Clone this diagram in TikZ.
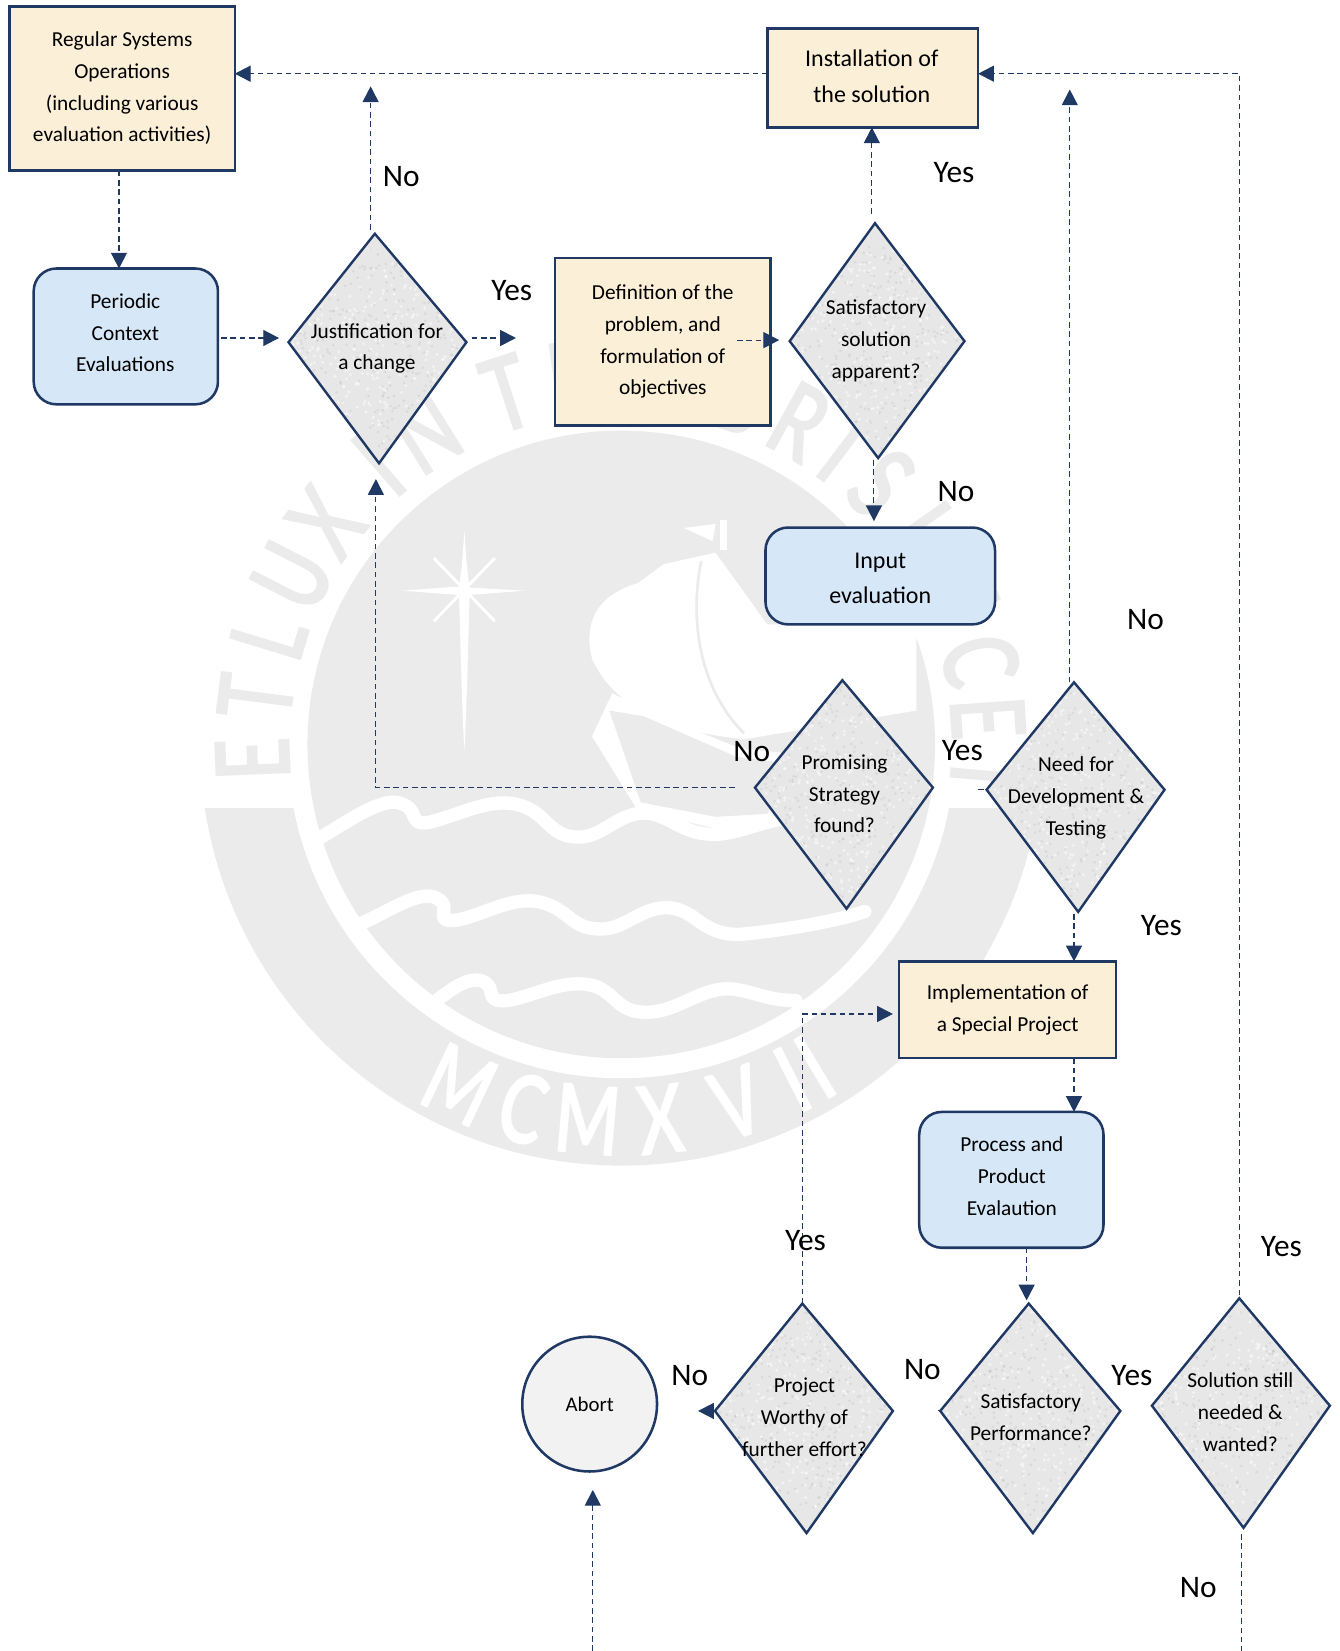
\documentclass[tikz,border=0pt]{standalone}
\usepackage{fontspec}
\setmainfont{Carlito}
\newfontfamily\wmfont{Lato}
\usetikzlibrary{arrows.meta}
\definecolor{navy}{HTML}{1F3864}
\definecolor{wm}{HTML}{ECEBEB}
\definecolor{cream}{HTML}{FBEFD8}
\definecolor{sky}{HTML}{D6E7F8}
\definecolor{kitefill}{HTML}{E7E7E7}
\def\pxu{0.7895pt}
\tikzset{
  x=0.7895pt, y=-0.7895pt,
  boxbase/.style={draw=navy,line width=1.9pt,align=center,inner sep=0pt,outer sep=0pt,text=black,
    font=\fontsize{16}{23.8}\selectfont},
  creambox/.style={boxbase,rectangle,fill=cream},
  skybox/.style={boxbase,rectangle,fill=sky,rounded corners=17pt},
  kitetext/.style={align=center,inner sep=0pt,text=black,font=\fontsize{16}{23.8}\selectfont},
  answer/.style={inner sep=0pt,text=black,font=\fontsize{23.5}{26}\selectfont},
  conn/.style={draw=navy,line width=0.8pt,dash pattern=on 4.2pt off 2.8pt},
  flow/.style={conn,-{Triangle[length=11.8pt,width=12pt]}},
  wmletter/.style={inner sep=0pt,text=wm,xscale=0.72,font=\fontsize{78}{78}\selectfont\wmfont\bfseries},
  wmwhite/.style={inner sep=0pt,text=white,xscale=0.72,font=\fontsize{72}{72}\selectfont\wmfont\bfseries},
  wave/.style={draw=white,line width=10pt,line cap=round,line join=round},
}
% name, top, right, bottom, left corners of a kite-shaped decision
\newcommand\kite[9]{%
  \coordinate (#1-t) at (#2,#3);
  \coordinate (#1-r) at (#4,#5);
  \coordinate (#1-b) at (#6,#7);
  \coordinate (#1-l) at (#8,#9);
  \begin{scope}
    \clip (#1-t) -- (#1-r) -- (#1-b) -- (#1-l) -- cycle;
    \fill[kitefill] (#1-t) -- (#1-r) -- (#1-b) -- (#1-l) -- cycle;
    \foreach \i in {1,...,420}{
      \fill[white,opacity=0.5] ({#8+rnd*(#4-#8)},{#3+rnd*(#7-#3)}) circle[radius=1.6];
      \fill[black,opacity=0.06] ({#8+rnd*(#4-#8)},{#3+rnd*(#7-#3)}) circle[radius=1.4];
    }
  \end{scope}
  \draw[navy,line width=1.8pt,line join=miter] (#1-t) -- (#1-r) -- (#1-b) -- (#1-l) -- cycle;
}
\begin{document}
\begin{tikzpicture}
\pgfmathsetseed{4242}
\useasboundingbox (0,0) rectangle (1272,1568);

% ---- faint seal behind the chart
\begin{scope}
  \clip (190,768) rectangle (1000,1120);
  \fill[wm] (590,707) circle[radius=400];
\end{scope}
\fill[white] (590,707) circle[radius=317];
\fill[wm] (590,707) circle[radius=298];
\foreach \c/\a in {E/182.4,T/172.7,L/163,U/153,X/143,I/131,N/122,T/108,E/98,N/89,E/80,B/71,R/61,I/53,S/45,L/35,U/24,C/13,E/4,T/-5}{
  \node[rotate=\a-90,wmletter] at ({590+350*cos(\a)},{707-350*sin(\a)}) {\c};
}
\foreach \c/\a in {M/244.6,C/255,M/265,X/276,V/288,I/297,I/301}{
  \node[rotate=\a+90,wmwhite] at ({590+358*cos(\a)},{707-358*sin(\a)}) {\c};
}
% star
\fill[white] (441,503) .. controls (443,540) and (445,550) .. (446,558) -- (498,561) -- (446,565)
  .. controls (445,600) and (443,680) .. (441,713) .. controls (439,680) and (437,600) .. (436,565)
  -- (382,561) -- (436,557) .. controls (437,550) and (439,540) .. (441,503) -- cycle;
\draw[white,line width=2.2pt] (412,530) -- (470,590) (470,530) -- (412,590);
\begin{scope}[shift={(161.5,304)},scale=0.5453]
  % ship
  \fill[white] (815,458) -- (860,425) -- (950,405) -- (1040,530) -- (1300,530) -- (1300,680)
     -- (1180,700) -- (1000,730) .. controls (900,720) and (780,690) .. (735,590)
     .. controls (720,530) and (740,480) .. (815,458) -- cycle;
  \fill[white] (895,362) -- (950,355) -- (945,385) -- cycle;
  \fill[white] (958,348) rectangle (970,400);
  \draw[wm,line width=2pt] (925,420) .. controls (905,520) and (920,640) .. (1000,720);
  \fill[white] (735,725) -- (770,650) -- (830,680) -- (990,745) -- (1120,760) -- (1060,880)
    -- (950,885) -- (815,855) -- cycle;
  \fill[wm] (765,680) -- (825,690) -- (985,760) -- (1090,775) -- (1040,860) -- (950,865) -- (820,840) -- cycle;
  % waves
  \draw[wave] (255,905) .. controls (300,880) and (360,835) .. (395,840) .. controls (440,850) and (410,880) .. (450,875)
     .. controls (510,860) and (560,830) .. (610,845) .. controls (660,860) and (660,905) .. (720,900)
     .. controls (760,895) and (790,850) .. (840,860) .. controls (880,870) and (900,900) .. (960,895)
     .. controls (1000,890) and (1040,870) .. (1090,865);
  \draw[wave] (335,1050) .. controls (380,1030) and (430,995) .. (460,1005) .. controls (500,1020) and (450,1050) .. (500,1045)
     .. controls (550,1035) and (600,1000) .. (650,1015) .. controls (700,1030) and (700,1065) .. (760,1060)
     .. controls (800,1055) and (830,1015) .. (880,1025) .. controls (920,1035) and (930,1070) .. (990,1070)
     .. controls (1050,1065) and (1150,1050) .. (1210,1030);
  \draw[wave] (450,1195) .. controls (480,1175) and (510,1145) .. (540,1150) .. controls (575,1160) and (540,1190) .. (590,1185)
     .. controls (640,1175) and (690,1145) .. (740,1160) .. controls (780,1175) and (780,1210) .. (840,1205)
     .. controls (890,1200) and (930,1160) .. (980,1165) .. controls (1020,1170) and (1040,1185) .. (1090,1185);
\end{scope}

% ---- rectangles and rounded boxes
\node[creambox,minimum width=214*\pxu,minimum height=156*\pxu] (reg) at (116,84)
  {Regular Systems\\Operations\\(including various\\evaluation activities)};
\node[creambox,minimum width=200*\pxu,minimum height=94*\pxu] (inst) at (829,74) {};
\node[kitetext,font=\fontsize{18}{27.2}\selectfont] (instT) at (828,72.5) {Installation of\\the solution};
\node[creambox,minimum width=205*\pxu,minimum height=159*\pxu] (def) at (629.5,324.5)
  {Definition of the\\problem, and\\formulation of\\objectives};
\node[creambox,minimum width=206*\pxu,minimum height=92*\pxu] (impl) at (957,959)
  {Implementation of\\a Special Project};
\node[skybox,minimum width=175*\pxu,minimum height=129*\pxu] (per) at (119.5,319.5) {};
\node[kitetext] (perT) at (119,316) {Periodic\\Context\\Evaluations};
\node[skybox,minimum width=218*\pxu,minimum height=92*\pxu] (inp) at (836,547) {};
\node[kitetext,font=\fontsize{18}{26}\selectfont] (inpT) at (836,549.5) {Input\\evaluation};
\node[skybox,minimum width=175*\pxu,minimum height=129*\pxu] (proc) at (960.5,1120.5) {};
\node[kitetext] (procT) at (961,1117) {Process and\\Product\\Evalaution};
\node[boxbase,circle,fill=black!5,minimum size=128*\pxu,font=\fontsize{15.6}{20}\selectfont] (abort) at (560,1333.5) {Abort};

% ---- decisions
\kite{jus}{356}{222}{443}{325}{360}{440}{274}{325}
\kite{sat}{831}{212}{916}{324}{834}{435}{750}{324}
\kite{pro}{800}{646}{886}{748}{804}{863}{717}{748}
\kite{nee}{1020}{648}{1106}{750}{1024}{866}{937}{750}
\kite{prj}{762}{1238}{848}{1340}{766}{1456}{679}{1340}
\kite{per2}{977}{1238}{1064}{1340}{981}{1456}{893}{1340}
\kite{sol}{1177}{1233}{1263}{1335}{1181}{1451}{1094}{1335}
\node[kitetext] (jusT) at (358,331) {Justification for\\a change};
\node[kitetext] (satT) at (832,323.5) {Satisfactory\\solution\\apparent?};
\node[kitetext] (proT) at (802,754) {Promising\\Strategy\\found?};
\node[kitetext] (neeT) at (1022,758) {Need for\\Development \&\\Testing};
\node[kitetext] (prjT) at (764,1346) {Project\\Worthy of\\further effort?};
\node[kitetext] (per2T) at (979,1346) {Satisfactory\\Performance?};
\node[kitetext] (solT) at (1178,1341) {Solution still\\needed \&\\wanted?};

% ---- free ends of connectors
\coordinate (noTop) at (352,82);
\coordinate (jusFree) at (490,321);
\coordinate (perFree) at (265,321);
\coordinate (needTop) at (1016,85);
\coordinate (jusUnder) at (357,455);
\coordinate (abortUnder) at (563,1415);
\coordinate (pageBotA) at (563,1568);
\coordinate (pageBotB) at (1179,1568);
\coordinate (stubA) at (698,748);
\coordinate (stubB) at (929,750);
\coordinate (prjHead) at (848,963);

% ---- connectors
\draw[flow] (inst.west |- 0,70) -- (reg.east |- 0,70);
\draw[flow] (113,0 |- reg.south) -- (113,0 |- per.north);
\draw[flow] (210,321) -- (perFree);
\draw[flow] (448,321) -- (jusFree);
\draw[flow] (352,218) -- (noTop);
\draw[flow] (700,323) -- (740,323);
\draw[flow] (828,203) -- (828,0 |- inst.south);
\draw[flow] (830,437) -- (830,495);
\draw[flow] (stubA) -- (357,748) -- (jusUnder);
\draw[conn] (stubB) -- (nee-l);
\draw[flow] (1016,648) -- (needTop);
\draw[flow] (1020,868) -- (1020,0 |- impl.north);
\draw[flow] (1020,0 |- impl.south) -- (1020,0 |- proc.north);
\draw[flow] (975,0 |- proc.south) -- (975,1235);
\draw[flow] (prj-t) -- (762,963) -- (prjHead);
\draw[flow] (prj-l) -- (663,1340);
\draw[flow] (1177,1230) -- (1177,70) -- (inst.east |- 0,70);
\draw[conn] (1179,1457) -- (pageBotB);
\draw[flow] (pageBotA) -- (abortUnder);
\draw[conn] (891,1340) -- (per2-l);

% ---- answers
\node[answer] (a1) at (381,168) {No};
\node[answer] (a2) at (486,276) {Yes};
\node[answer] (a3) at (906,164) {Yes};
\node[answer] (a4) at (908,467) {No};
\node[answer] (a5) at (1088,588) {No};
\node[answer] (a6) at (714,714) {No};
\node[answer] (a7) at (914,713) {Yes};
\node[answer] (a8) at (1103,879) {Yes};
\node[answer] (a9) at (765,1178) {Yes};
\node[answer] (a10) at (655,1306) {No};
\node[answer] (a11) at (876,1301) {No};
\node[answer] (a12) at (1075,1306) {Yes};
\node[answer] (a13) at (1217,1184) {Yes};
\node[answer] (a14) at (1138,1508) {No};
\end{tikzpicture}
\end{document}
